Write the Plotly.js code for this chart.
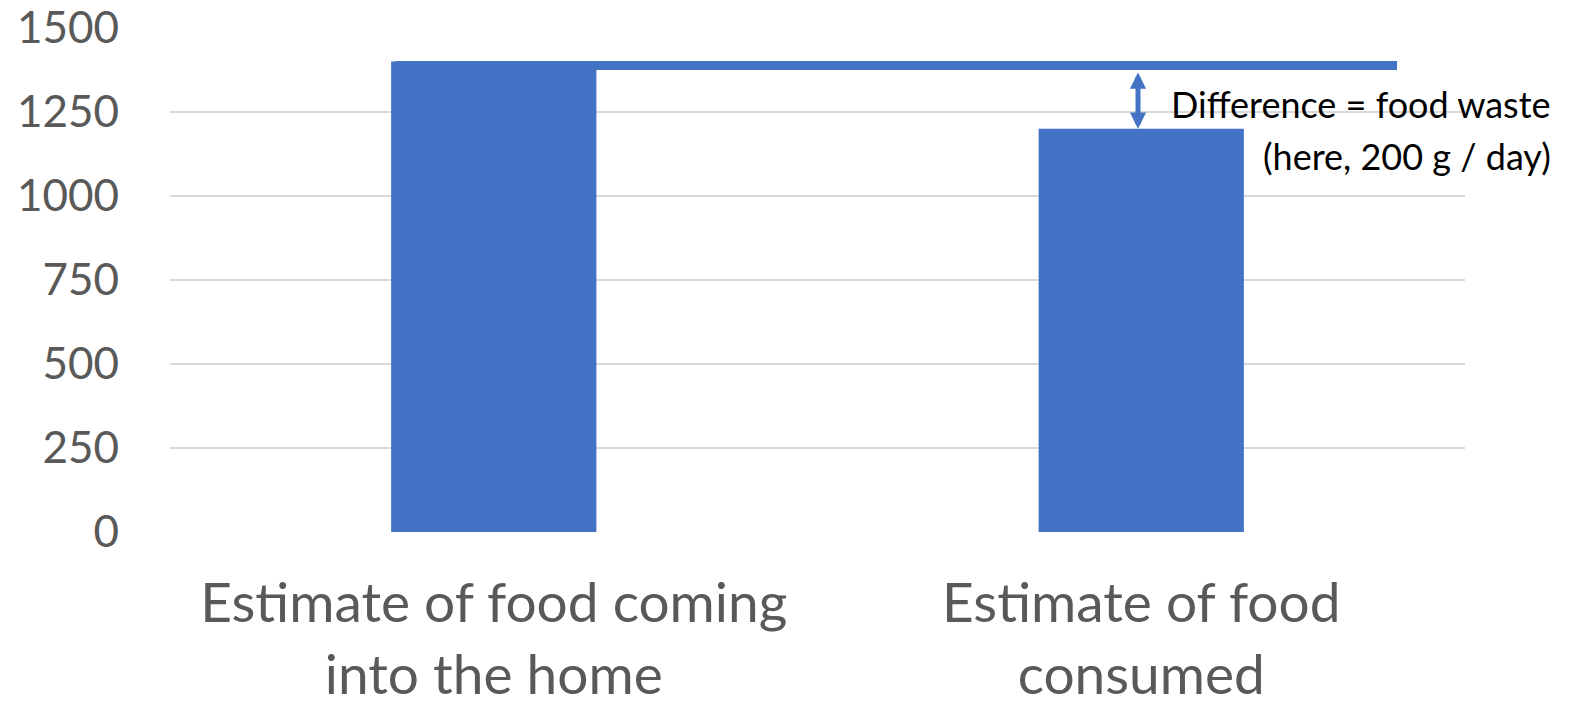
<!DOCTYPE html>
<html>
<head>
<meta charset="utf-8">
<script src="https://cdn.plot.ly/plotly-3.0.1.min.js"></script>
<style>html,body{margin:0;padding:0;background:#fff;}#chart{width:1574px;height:712px;}</style>
</head>
<body>
<div id="chart"></div>
<script>
const categories = ["Estimate of food coming<br>into the home", "Estimate of food<br>consumed"];
const values = [1400, 1200];
const yTicks = [0, 250, 500, 750, 1000, 1250, 1500];
const wasteLine = 1400;
const noteLines = ["Difference = food waste", "(here, 200 g / day)"];

const blue = "#4472C4";
const data = [{
  type: "bar",
  x: categories,
  y: values,
  marker: {color: blue},
  hoverinfo: "skip"
}];

const layout = {
  width: 1574, height: 712,
  margin: {l: 170, r: 109, t: 28, b: 180},
  paper_bgcolor: "#fff", plot_bgcolor: "#fff",
  showlegend: false,
  bargap: 0.683,
  font: {family: "Lato, 'Open Sans', sans-serif", color: "#595959"},
  xaxis: {
    type: "category",
    tickfont: {size: 55, color: "#595959"},
    showgrid: false, zeroline: false, showline: false, ticks: "",
    ticklabelstandoff: 34
  },
  yaxis: {
    range: [0, 1500],
    tickvals: yTicks,
    ticktext: yTicks.map(String),
    tickfont: {size: 44, color: "#595959"},
    gridcolor: "#D9D9D9", gridwidth: 1.3,
    zeroline: false, showline: false, ticks: "",
    ticklabelstandoff: 50
  },
  shapes: [{
    type: "rect", xref: "x", yref: "y",
    x0: -0.152, x1: 1.395, y0: wasteLine - 25, y1: wasteLine + 2,
    fillcolor: blue, line: {width: 0}
  }],
  annotations: [
    {
      xref: "x", yref: "y", axref: "x", ayref: "y",
      x: 0.995, y: values[1], ax: 0.995, ay: wasteLine - 28,
      showarrow: true, arrowhead: 2, arrowside: "end+start",
      arrowwidth: 5, arrowsize: 0.65, arrowcolor: blue, text: ""
    },
    {
      xref: "paper", yref: "y", x: 1.068, y: 1274, xanchor: "right", yanchor: "middle",
      text: noteLines[0], showarrow: false, font: {size: 36, color: "#000"}
    },
    {
      xref: "paper", yref: "y", x: 1.068, y: 1120, xanchor: "right", yanchor: "middle",
      text: noteLines[1], showarrow: false, font: {size: 36, color: "#000"}
    }
  ]
};

Plotly.newPlot("chart", data, layout, {displayModeBar: false, staticPlot: true});
</script>
</body>
</html>
